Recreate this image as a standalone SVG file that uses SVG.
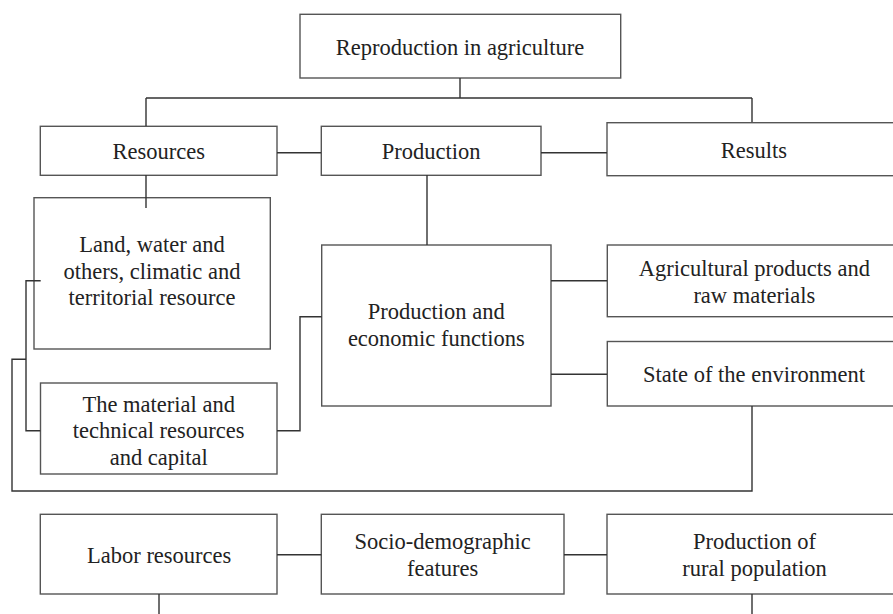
<svg xmlns="http://www.w3.org/2000/svg" width="893" height="614" viewBox="0 0 893 614">
<style>
.box{fill:#fff;stroke:#555;stroke-width:1.4}
.t{font-family:"Liberation Serif","Times New Roman",serif;font-size:22.5px;fill:#222;text-anchor:middle}
.c{fill:none;stroke:#333;stroke-width:1.4}
</style>
<rect width="893" height="614" fill="#fff"/>
<g id="n-top"><rect class="box" x="300" y="14.3" width="320.7" height="63.7"/><text class="t" x="460" y="54.5">Reproduction in agriculture</text></g>
<g id="n-resources"><rect class="box" x="40.3" y="126.3" width="236.7" height="49"/><text class="t" x="158.7" y="159">Resources</text></g>
<g id="n-production"><rect class="box" x="321.3" y="126.3" width="219.7" height="49"/><text class="t" x="431.2" y="159">Production</text></g>
<g id="n-results"><rect class="box" x="607" y="122.7" width="300" height="53"/><text class="t" x="754" y="158">Results</text></g>
<g id="n-land"><rect class="box" x="34" y="197.7" width="236.3" height="151.3"/><text class="t" x="152" y="252">Land, water and</text><text class="t" x="152" y="278.5">others, climatic and</text><text class="t" x="152" y="305">territorial resource</text></g>
<g id="n-material"><rect class="box" x="40.5" y="383" width="236.5" height="91"/><text class="t" x="158.7" y="411.5">The material and</text><text class="t" x="158.7" y="438">technical resources</text><text class="t" x="158.7" y="464.5">and capital</text></g>
<g id="n-pef"><rect class="box" x="321.7" y="245" width="229.3" height="161"/><text class="t" x="436.3" y="319.3">Production and</text><text class="t" x="436.3" y="345.7">economic functions</text></g>
<g id="n-agri"><rect class="box" x="607.3" y="245" width="300" height="71.7"/><text class="t" x="754.3" y="276">Agricultural products and</text><text class="t" x="754.3" y="302.7">raw materials</text></g>
<g id="n-state"><rect class="box" x="607.3" y="341.5" width="300" height="64.5"/><text class="t" x="754" y="381.7">State of the environment</text></g>
<g id="n-labor"><rect class="box" x="40.3" y="514.3" width="236.7" height="79.7"/><text class="t" x="159.2" y="563">Labor resources</text></g>
<g id="n-socio"><rect class="box" x="321.3" y="514.3" width="242.7" height="79.7"/><text class="t" x="442.7" y="549.3">Socio-demographic</text><text class="t" x="442.7" y="575.5">features</text></g>
<g id="n-rural"><rect class="box" x="607" y="514.3" width="300" height="79.7"/><text class="t" x="754.5" y="549.3">Production of</text><text class="t" x="754.5" y="575.5">rural population</text></g>
<g id="connectors">
<path class="c" d="M460 78V98M146 98H752M146 98V126M752 98V122"/>
<path class="c" d="M277 152.7H321M541 152.7H607"/>
<path class="c" d="M146 175V208"/>
<path class="c" d="M427 175V245"/>
<path class="c" d="M551 280.7H607M551 374.3H607"/>
<path class="c" d="M40.7 280.7H26V430.7H40.3"/>
<path class="c" d="M26 359.3H12V491H752V406"/>
<path class="c" d="M277 430.7H300V316.7H321.7"/>
<path class="c" d="M277 554.7H321.3M564 554.7H607"/>
<path class="c" d="M159 594V614M752 594V614"/>
</g>
</svg>
